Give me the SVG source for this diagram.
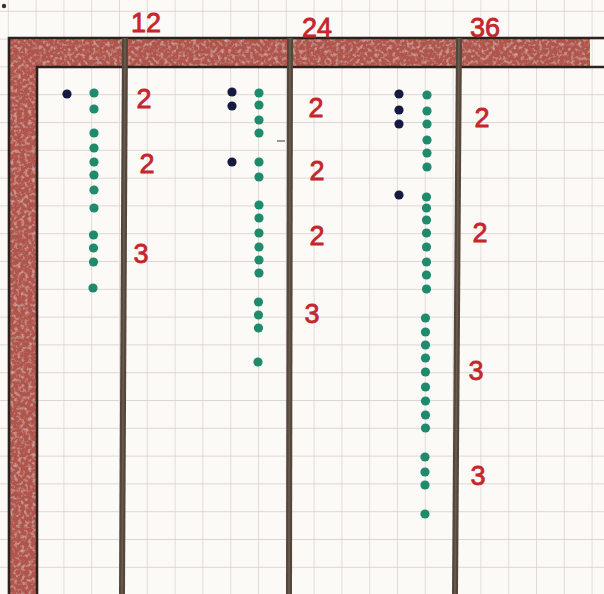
<svg xmlns="http://www.w3.org/2000/svg" width="604" height="594" viewBox="0 0 604 594">
<style>
.lbl{font-family:"Liberation Sans",Arial,sans-serif;font-size:27px;fill:#c4262c;text-anchor:middle;stroke:#c4262c;stroke-width:0.8}
.g{fill:#1f8a6c}
.b{fill:#161a40}
.col{stroke:#54463a;stroke-width:6;fill:none}
.colc{stroke:#7a6a5a;stroke-width:1.6;fill:none;opacity:0.6}
.frame{stroke:#2b211d;stroke-width:2.6;fill:none}
</style>
<defs>
<pattern id="grid" patternUnits="userSpaceOnUse" x="7.8" y="10.8" width="27.8" height="27.8">
<path d="M0 0H27.8M0 0V27.8" stroke="#d1ccc9" stroke-width="1.3" fill="none"/>
</pattern>
<filter id="pencil" x="0" y="0" width="1" height="1">
<feTurbulence type="fractalNoise" baseFrequency="0.28" numOctaves="2" seed="5" result="n"/>
<feColorMatrix in="n" type="matrix" values="0 0 0 0 1  0 0 0 0 0.85  0 0 0 0 0.82  0 0 0 1.0 -0.48" result="w"/>
<feComposite in="w" in2="SourceGraphic" operator="in" result="wm"/>
<feMerge><feMergeNode in="SourceGraphic"/><feMergeNode in="wm"/></feMerge>
</filter>
</defs>
<rect width="604" height="594" fill="#fcfaf7"/>
<rect width="604" height="594" fill="url(#grid)"/>
<circle cx="4" cy="6" r="2.2" fill="#3a3030"/>
<g id="frame">
<path d="M10 38H590V66H37V594H10Z" fill="#b0554c" filter="url(#pencil)"/>
<path class="frame" d="M9 594V38H604"/>
<path class="frame" d="M37 594V67H604"/>
</g>
<g id="connectors">
<path class="col" d="M125 38L122 594"/>
<path class="colc" d="M125 38L122 594"/>
<path class="col" d="M290 38L289 594"/>
<path class="colc" d="M290 38L289 594"/>
<path class="col" d="M459 38L455 594"/>
<path class="colc" d="M459 38L455 594"/>
<path d="M277 141H285" stroke="#777" stroke-width="1.5"/>
</g>
<g id="col12">
<text class="lbl" x="146" y="32">12</text>
<circle class="b" cx="67" cy="94" r="4.6"/>
<g class="g">
<circle cx="94" cy="93" r="4.6"/><circle cx="94" cy="109" r="4.6"/>
<circle cx="94" cy="133" r="4.6"/><circle cx="94" cy="148" r="4.6"/><circle cx="94" cy="162" r="4.6"/><circle cx="94" cy="175" r="4.6"/><circle cx="94" cy="190" r="4.6"/><circle cx="94" cy="208" r="4.6"/>
<circle cx="93.5" cy="235" r="4.6"/><circle cx="93.5" cy="248" r="4.6"/><circle cx="93.5" cy="262" r="4.6"/>
<circle cx="93" cy="288" r="4.6"/>
</g>
<text class="lbl" x="144" y="108">2</text>
<text class="lbl" x="147" y="173">2</text>
<text class="lbl" x="141" y="263">3</text>
</g>
<g id="col24">
<text class="lbl" x="317" y="37">24</text>
<g class="b">
<circle cx="232" cy="92" r="4.6"/><circle cx="232" cy="106" r="4.6"/><circle cx="232" cy="162" r="4.6"/>
</g>
<g class="g">
<circle cx="259" cy="93" r="4.6"/><circle cx="259" cy="105" r="4.6"/><circle cx="259" cy="120" r="4.6"/><circle cx="259" cy="133" r="4.6"/>
<circle cx="259" cy="162" r="4.6"/><circle cx="259" cy="177" r="4.6"/>
<circle cx="259" cy="205" r="4.6"/><circle cx="259" cy="218" r="4.6"/><circle cx="259" cy="233" r="4.6"/><circle cx="259" cy="247" r="4.6"/><circle cx="259" cy="260" r="4.6"/><circle cx="259" cy="273" r="4.6"/>
<circle cx="258.5" cy="302" r="4.6"/><circle cx="258.5" cy="315" r="4.6"/><circle cx="258.5" cy="328" r="4.6"/>
<circle cx="258" cy="362" r="4.6"/>
</g>
<text class="lbl" x="316" y="117">2</text>
<text class="lbl" x="317" y="180">2</text>
<text class="lbl" x="317" y="245">2</text>
<text class="lbl" x="312" y="323">3</text>
</g>
<g id="col36">
<text class="lbl" x="485" y="37">36</text>
<g class="b">
<circle cx="399" cy="94" r="4.6"/><circle cx="399" cy="110" r="4.6"/><circle cx="399" cy="124" r="4.6"/><circle cx="399" cy="195" r="4.6"/>
</g>
<g class="g">
<circle cx="427" cy="95" r="4.6"/><circle cx="427" cy="111" r="4.6"/><circle cx="427" cy="124" r="4.6"/><circle cx="427" cy="140" r="4.6"/><circle cx="427" cy="153" r="4.6"/><circle cx="427" cy="167" r="4.6"/>
<circle cx="426.5" cy="197" r="4.6"/><circle cx="426.5" cy="208" r="4.6"/><circle cx="426.5" cy="220" r="4.6"/><circle cx="426.5" cy="233" r="4.6"/><circle cx="426.5" cy="247" r="4.6"/><circle cx="426.5" cy="262" r="4.6"/><circle cx="426.5" cy="275" r="4.6"/><circle cx="426.5" cy="289" r="4.6"/>
<circle cx="425.5" cy="318" r="4.6"/><circle cx="425.5" cy="332" r="4.6"/><circle cx="425.5" cy="345" r="4.6"/><circle cx="425.5" cy="358" r="4.6"/><circle cx="425.5" cy="372" r="4.6"/><circle cx="425.5" cy="387" r="4.6"/><circle cx="425.5" cy="401" r="4.6"/><circle cx="425.5" cy="415" r="4.6"/><circle cx="425.5" cy="428" r="4.6"/>
<circle cx="425" cy="457" r="4.6"/><circle cx="425" cy="472" r="4.6"/><circle cx="425" cy="485" r="4.6"/>
<circle cx="425" cy="514" r="4.6"/>
</g>
<text class="lbl" x="482" y="127">2</text>
<text class="lbl" x="480" y="242">2</text>
<text class="lbl" x="476" y="380">3</text>
<text class="lbl" x="478" y="485">3</text>
</g>
</svg>
